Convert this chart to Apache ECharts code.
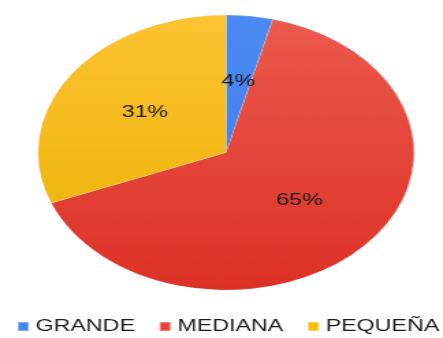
<!DOCTYPE html>
<html>
<head>
<meta charset="utf-8">
<script src="https://cdn.jsdelivr.net/npm/echarts@6/dist/echarts.min.js"></script>
<style>
  html, body { margin: 0; padding: 0; background: #fff; overflow: hidden; }
  #wrap { width: 443px; height: 338px; overflow: hidden; position: relative; }
  /* the chart is laid out narrower and stretched horizontally into an oval */
  #chart { width: 324px; height: 338px; transform: scaleX(1.3673); transform-origin: 0 0; }
</style>
</head>
<body>
<div id="wrap"><div id="chart"></div></div>
<script>
const categories = ['GRANDE', 'MEDIANA', 'PEQUEÑA'];
const shares = [4, 65, 31];
const sliceTop = ['#4c8af3', '#ec5a4d', '#fdc332'];
const sliceBottom = ['#3a78e6', '#dd3127', '#eab000'];
const legendColors = ['#4285f4', '#ea4335', '#fbbc04'];

const chart = echarts.init(document.getElementById('chart'), null, { renderer: 'canvas' });

const cx = 165.3, cy = 152.5, r = 137.5;

const data = categories.map((name, i) => ({
  name,
  value: shares[i],
  itemStyle: {
    color: new echarts.graphic.LinearGradient(0, cy - r, 0, cy + r, [
      { offset: 0, color: sliceTop[i] },
      { offset: 1, color: sliceBottom[i] }
    ], true)
  }
}));

chart.setOption({
  animation: false,
  color: legendColors,
  legend: {
    data: categories.map((name, i) => ({ name, itemStyle: { color: legendColors[i] } })),
    left: 12,
    top: 318,
    width: 320,
    padding: 0,
    itemGap: 17,
    itemWidth: 8,
    itemHeight: 9,
    icon: 'rect',
    textStyle: { fontFamily: 'Liberation Sans', fontSize: 17, color: '#1a1a1a' }
  },
  series: [{
    type: 'pie',
    center: [cx, cy],
    radius: [0, r],
    startAngle: 90,
    clockwise: true,
    data,
    itemStyle: { borderColor: 'rgba(255,255,255,0.35)', borderWidth: 0.5 },
    label: {
      show: true,
      position: 'inside',
      formatter: '{c}%',
      fontFamily: 'Liberation Sans',
      fontSize: 17,
      color: '#1a1a1a'
    },
    labelLine: { show: false },
    emphasis: { disabled: true }
  }]
});
</script>
</body>
</html>
